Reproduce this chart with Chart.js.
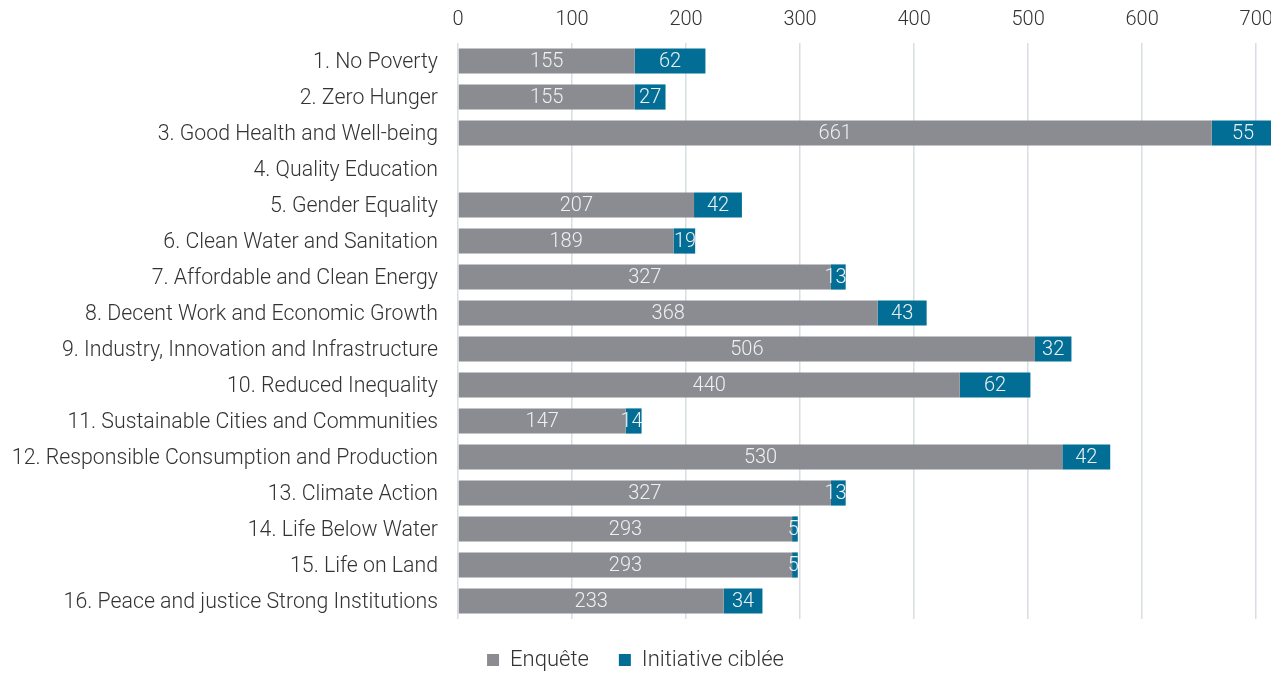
<!DOCTYPE html>
<html>
<head>
<meta charset="utf-8">
<script src="https://cdn.jsdelivr.net/npm/chart.js@4/dist/chart.umd.min.js"></script>
<style>
  html, body { margin: 0; padding: 0; background: #fff; overflow: hidden; }
  #wrap { width: 1271px; height: 675px; position: relative; }
</style>
</head>
<body>
<div id="wrap"><canvas id="c"></canvas></div>
<script>
const categories = [
  "1. No Poverty",
  "2. Zero Hunger",
  "3. Good Health and Well-being",
  "4. Quality Education",
  "5. Gender Equality",
  "6. Clean Water and Sanitation",
  "7. Affordable and Clean Energy",
  "8. Decent Work and Economic Growth",
  "9. Industry, Innovation and Infrastructure",
  "10. Reduced Inequality",
  "11. Sustainable Cities and Communities",
  "12. Responsible Consumption and Production",
  "13. Climate Action",
  "14. Life Below Water",
  "15. Life on Land",
  "16. Peace and justice Strong Institutions"
];
const enquete    = [155, 155, 661, 0, 207, 189, 327, 368, 506, 440, 147, 530, 327, 293, 293, 233];
const initiative = [ 62,  27,  55, 0,  42,  19,  13,  43,  32,  62,  14,  42,  13,   5,   5,  34];
const seriesNames = ["Enquête", "Initiative ciblée"];
const xTicks = [0, 100, 200, 300, 400, 500, 600, 700];

const FONT = "Roboto, 'Liberation Sans', Arial, sans-serif";

const labelPlugin = {
  id: 'segLabels',
  afterDatasetsDraw(chart) {
    const ctx = chart.ctx;
    const area = chart.chartArea;
    ctx.save();
    ctx.beginPath();
    ctx.rect(area.left, area.top, area.right - area.left, area.bottom - area.top);
    ctx.clip();
    ctx.font = "300 20px " + FONT;
    ctx.fillStyle = "#eef0f2";
    ctx.textAlign = "center";
    ctx.textBaseline = "middle";
    chart.data.datasets.forEach((ds, di) => {
      const meta = chart.getDatasetMeta(di);
      meta.data.forEach((el, i) => {
        const v = ds.data[i];
        if (!v) return;
        let cx = (el.x + el.base) / 2;
        const w = ctx.measureText(String(v)).width;
        const segW = Math.abs(el.x - el.base);
        if (w > segW) cx = el.x - w / 2 + 1;
        ctx.fillText(String(v), cx, el.y + 1);
      });
    });
    ctx.restore();
  }
};

const legendFix = {
  id: 'legendFix',
  beforeInit(chart) {
    const lg = chart.legend;
    if (!lg) return;
    const origFit = lg.fit;
    lg.fit = function () {
      origFit.call(this);
      this.height = 56;
    };
  }
};

new Chart(document.getElementById('c'), {
  type: 'bar',
  data: {
    labels: categories,
    datasets: [
      { label: seriesNames[0], data: enquete, backgroundColor: '#8a8c91', stack: 's' },
      { label: seriesNames[1], data: initiative, backgroundColor: '#026e95', stack: 's' }
    ]
  },
  plugins: [labelPlugin, legendFix],
  options: {
    indexAxis: 'y',
    responsive: true,
    maintainAspectRatio: false,
    animation: false,
    layout: { padding: { top: 0, right: 0, bottom: 0, left: 0 } },
    datasets: { bar: { categoryPercentage: 1, barPercentage: 0.7 } },
    scales: {
      x: {
        position: 'top',
        stacked: true,
        min: 0,
        max: 713,
        afterBuildTicks(scale) {
          scale.ticks = xTicks.map(v => ({ value: v }));
        },
        afterFit(scale) {
          scale.paddingRight = 0;
          scale.paddingLeft = 0;
          scale.height = 43;
        },
        grid: { color: '#d8dee2', lineWidth: 1.5, drawTicks: false },
        border: { display: false },
        ticks: {
          color: '#333333',
          font: { family: FONT, size: 20, weight: '300' },
          padding: 11,
          maxRotation: 0
        }
      },
      y: {
        stacked: true,
        afterFit(scale) { scale.width = 458; },
        grid: { display: false, drawTicks: false },
        border: { display: false },
        ticks: {
          color: '#333333',
          font: { family: FONT, size: 21.3, weight: '300' },
          padding: 20,
          labelOffset: 2,
          autoSkip: false
        }
      }
    },
    plugins: {
      legend: {
        position: 'bottom',
        labels: {
          color: '#333333',
          font: { family: FONT, size: 22, weight: '300' },
          boxWidth: 12,
          boxHeight: 12,
          padding: 30
        }
      },
      tooltip: { enabled: false }
    }
  }
});
</script>
</body>
</html>
